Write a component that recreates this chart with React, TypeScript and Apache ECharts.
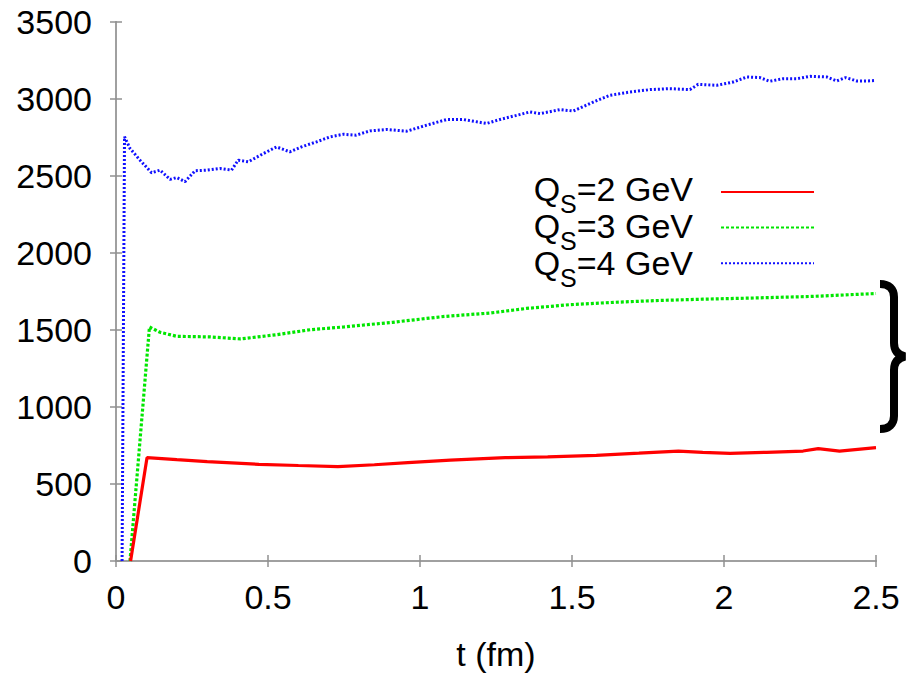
import React, { useEffect, useRef } from "react";
import * as echarts from "echarts";

const xTicks = [0, 0.5, 1, 1.5, 2, 2.5];
const yTicks = [0, 500, 1000, 1500, 2000, 2500, 3000, 3500];
const seriesNames = ["2", "3", "4"];
const seriesColors = ["#ff0000", "#00e600", "#1010ff"];

const tRed = [0.048, 0.102, 0.2, 0.3, 0.47, 0.6, 0.73, 0.85, 0.96, 1.1, 1.28, 1.42, 1.58, 1.72, 1.85, 1.93, 2.02, 2.14, 2.26, 2.31, 2.38, 2.5];
const vRed = [0, 671, 658, 645, 628, 620, 613, 625, 639, 655, 671, 676, 686, 700, 714, 705, 699, 706, 714, 730, 714, 736];

const tGreen = [0.046, 0.11, 0.145, 0.2, 0.31, 0.41, 0.53, 0.64, 0.75, 0.91, 1.08, 1.23, 1.35, 1.49, 1.64, 1.79, 1.93, 2.08, 2.29, 2.5];
const vGreen = [0, 1520, 1485, 1459, 1455, 1442, 1470, 1502, 1520, 1550, 1588, 1610, 1640, 1664, 1680, 1692, 1700, 1707, 1718, 1737];

const tBlue = [0.02, 0.028, 0.046, 0.079, 0.117, 0.145, 0.178, 0.2, 0.227, 0.26, 0.298, 0.342, 0.38, 0.402, 0.435, 0.485, 0.528, 0.572, 0.61, 0.66, 0.704, 0.748, 0.79, 0.835, 0.89, 0.956, 1.022, 1.088, 1.142, 1.219, 1.263, 1.318, 1.362, 1.395, 1.46, 1.504, 1.57, 1.625, 1.69, 1.757, 1.822, 1.888, 1.915, 1.976, 2.03, 2.075, 2.118, 2.15, 2.195, 2.24, 2.283, 2.338, 2.37, 2.4, 2.437, 2.47, 2.5];
const vBlue = [0, 2755, 2679, 2603, 2521, 2538, 2478, 2490, 2463, 2534, 2538, 2549, 2538, 2603, 2592, 2646, 2689, 2657, 2689, 2722, 2754, 2771, 2765, 2793, 2802, 2791, 2830, 2867, 2867, 2841, 2867, 2894, 2916, 2905, 2931, 2922, 2980, 3024, 3045, 3061, 3067, 3061, 3095, 3089, 3110, 3143, 3139, 3115, 3132, 3132, 3147, 3143, 3117, 3139, 3117, 3117, 3120];

const FONT = "'Liberation Sans', Arial, Helvetica, sans-serif";
const BRACE_D =
  "M0,3 C9,3 14,8 14,16 L14,62 C14,70 18,74 25,75.5 C18,77 14,81 14,89 L14,135 C14,143 9,148 0,148";

let braceRegistered = false;

export default function App() {
  const ref = useRef<HTMLDivElement>(null);

  useEffect(() => {
    if (!ref.current) return;
    if (!braceRegistered) {
      echarts.graphic.registerShape("brace", echarts.graphic.extendPath(BRACE_D, {}) as any);
      braceRegistered = true;
    }
    const chart = echarts.init(ref.current, null, { renderer: "svg" });

    const zip = (t: number[], v: number[]) => t.map((x, i) => [x, v[i]]);
    const datasets = [zip(tRed, vRed), zip(tGreen, vGreen), zip(tBlue, vBlue)];
    const lineTypes: any[] = ["solid", [3, 2], [2, 2]];
    const widths = [3.2, 3.2, 3];

    const axisLine = { show: true, lineStyle: { color: "#a0a0a0", width: 2 } };
    const axisTick = { show: true, inside: true, length: 6, lineStyle: { color: "#909090", width: 1.5 } };
    const labelStyle = { fontSize: 34, color: "#000", fontFamily: FONT, formatter: (v: number) => String(v) };

    const legendRich = {
      q: { fontSize: 34, lineHeight: 34, fontFamily: FONT, fill: "#000", verticalAlign: "top" },
      s: { fontSize: 25, lineHeight: 25, padding: [19, 0, 0, 0], fontFamily: FONT, fill: "#000", verticalAlign: "top" },
      t: { fontSize: 34, lineHeight: 34, fontFamily: FONT, fill: "#000", verticalAlign: "top" },
    };
    const legendTextTop = 172;
    const legendRowGap = 37;

    const option: any = {
      animation: false,
      backgroundColor: "#fff",
      grid: { left: 116, right: 32, top: 22, bottom: 114, containLabel: false },
      xAxis: [
        {
          type: "value",
          min: xTicks[0],
          max: xTicks[xTicks.length - 1],
          interval: 0.5,
          position: "bottom",
          axisLine,
          axisTick,
          splitLine: { show: false },
          axisLabel: { ...labelStyle, margin: 19 },
          name: "t (fm)",
          nameLocation: "middle",
          nameGap: 76,
          nameTextStyle: { fontSize: 34, color: "#000", fontFamily: FONT },
        },
        {
          type: "value",
          min: xTicks[0],
          max: xTicks[xTicks.length - 1],
          interval: 0.5,
          position: "top",
          axisLine,
          axisTick,
          splitLine: { show: false },
          axisLabel: { show: false },
        },
      ],
      yAxis: [
        {
          type: "value",
          min: yTicks[0],
          max: yTicks[yTicks.length - 1],
          interval: 500,
          position: "left",
          axisLine,
          axisTick,
          splitLine: { show: false },
          axisLabel: { ...labelStyle, margin: 24 },
        },
        {
          type: "value",
          min: yTicks[0],
          max: yTicks[yTicks.length - 1],
          interval: 500,
          position: "right",
          axisLine,
          axisTick,
          splitLine: { show: false },
          axisLabel: { show: false },
        },
      ],
      legend: {
        orient: "vertical",
        align: "right",
        right: 93,
        top: 185,
        padding: 0,
        itemGap: 23,
        itemWidth: 93,
        itemHeight: 14,
        selectedMode: false,
        itemStyle: { opacity: 0 },
        data: seriesNames.map((q) => `QS=${q} GeV`),
        formatter: () => "",
        textStyle: { fontSize: 1 },
      },
      series: seriesNames.map((q, i) => ({
        name: `QS=${q} GeV`,
        type: "line",
        xAxisIndex: 0,
        yAxisIndex: 0,
        data: datasets[i],
        showSymbol: false,
        symbol: "none",
        smooth: false,
        color: seriesColors[i],
        lineStyle: { color: seriesColors[i], width: widths[i], type: lineTypes[i], cap: "butt" },
        z: 3 - i,
      })),
      graphic: [
        {
          type: "brace",
          x: 880,
          y: 281,
          style: { stroke: "#000", lineWidth: 8, fill: "none" },
        },
        ...seriesNames.map((q, i) => ({
          type: "text",
          x: 693,
          y: legendTextTop + i * legendRowGap,
          style: {
            text: `{q|Q}{s|S}{t|=${q} GeV}`,
            align: "right",
            verticalAlign: "top",
            fill: "#000",
            fontSize: 34,
            fontFamily: FONT,
            rich: legendRich,
          },
        })),
      ],
    };

    chart.setOption(option);
    return () => chart.dispose();
  }, []);

  return <div ref={ref} style={{ position: "fixed", left: 0, top: 0, width: 908, height: 676 }} />;
}
